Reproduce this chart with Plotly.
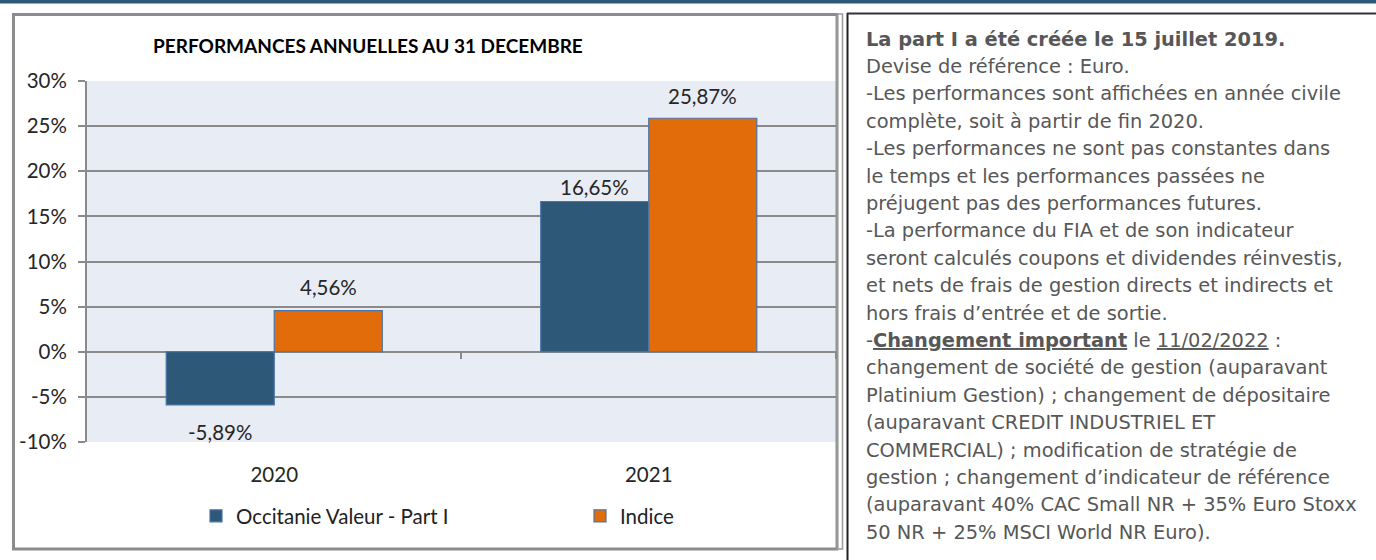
import plotly.graph_objects as go

# ---- data ----
years = ["2020", "2021"]
fund_name = "Occitanie Valeur - Part I"
index_name = "Indice"
fund_perf = [-5.89, 16.65]
index_perf = [4.56, 25.87]
y_ticks = [-10, -5, 0, 5, 10, 15, 20, 25, 30]
y_tick_labels = [f"{v}%" for v in y_ticks]
chart_title = "PERFORMANCES ANNUELLES AU 31 DECEMBRE"

notes = [
    "<b>La part I a été créée le 15 juillet 2019.</b>",
    "Devise de référence : Euro.",
    "-Les performances sont affichées en année civile",
    "complète, soit à partir de fin 2020.",
    "-Les performances ne sont pas constantes dans",
    "le temps et les performances passées ne",
    "préjugent pas des performances futures.",
    "-La performance du FIA et de son indicateur",
    "seront calculés coupons et dividendes réinvestis,",
    "et nets de frais de gestion directs et indirects et",
    "hors frais d’entrée et de sortie.",
    "-<b><u>Changement important</u></b> le <u>11/02/2022</u> :",
    "changement de société de gestion (auparavant",
    "Platinium Gestion) ; changement de dépositaire",
    "(auparavant CREDIT INDUSTRIEL ET",
    "COMMERCIAL) ; modification de stratégie de",
    "gestion ; changement d’indicateur de référence",
    "(auparavant 40% CAC Small NR + 35% Euro Stoxx",
    "50 NR + 25% MSCI World NR Euro).",
]

# ---- geometry / style (pixels) ----
W, H = 1376, 560
L, R, T, B = 87, 836, 81, 442
# vertical pixel offset of each data label centre from its bar end (style only)
label_shift = {"fund": [-27, 14], "index": [24, 22]}


def px(x):
    return (x - L) / (R - L)


def py(y):
    return (B - y) / (B - T)


BLUE = "#2E5877"
ORANGE = "#E36C0A"
GRID = "#8A8A8A"
CHART_FONT = "Lato"
FS = 20.5

fig = go.Figure()
fig.add_trace(go.Bar(x=years, y=fund_perf, name=fund_name, legend="legend",
                     marker=dict(color=BLUE, line=dict(color="#4A74A8", width=1.2))))
fig.add_trace(go.Bar(x=years, y=index_perf, name=index_name, legend="legend2",
                     marker=dict(color=ORANGE, line=dict(color="#4A74A8", width=1.2))))

annotations = []
# data labels (x given as category serial number)
for series, key, xshift in ((fund_perf, "fund", -54), (index_perf, "index", 54)):
    for i, v in enumerate(series):
        annotations.append(dict(
            x=i, y=v, xref="x", yref="y", xshift=xshift,
            yshift=label_shift[key][i], yanchor="middle",
            text=f"{v:.2f}%".replace(".", ","), showarrow=False,
            font=dict(family=CHART_FONT, size=FS, color="#262626")))

# title
annotations.append(dict(x=px(368), y=py(45), xref="paper", yref="paper",
                        text=f"<b>{chart_title}</b>", showarrow=False,
                        xanchor="center", yanchor="middle",
                        font=dict(family=CHART_FONT, size=19, color="#000000")))

# right-hand notes
y0_line, dy_line = 39, 27.4
for i, line in enumerate(notes):
    annotations.append(dict(x=px(864), y=py(y0_line + i * dy_line), xref="paper", yref="paper",
                            text=line, showarrow=False, xanchor="left", yanchor="middle",
                            font=dict(family="DejaVu Sans", size=19.4, color="#575757")))

shapes = [
    # top band
    dict(type="rect", xref="paper", yref="paper", x0=px(0), x1=px(W), y0=py(0), y1=py(3.5),
         fillcolor="#2D5878", line=dict(width=0), layer="above"),
    # chart frame
    dict(type="rect", xref="paper", yref="paper", x0=px(13.5), x1=px(837), y0=py(14.5), y1=py(549),
         line=dict(color="#8C8C8C", width=3)),
    dict(type="rect", xref="paper", yref="paper", x0=px(837), x1=px(842.5), y0=py(14), y1=py(549),
         line=dict(color="#9A9A9A", width=1.5)),
    # text box border
    dict(type="line", xref="paper", yref="paper", x0=px(847.5), x1=px(847.5), y0=py(13), y1=py(H),
         line=dict(color="#222222", width=2)),
    dict(type="line", xref="paper", yref="paper", x0=px(847), x1=px(W), y0=py(13.5), y1=py(13.5),
         line=dict(color="#333333", width=2)),
]
# category boundary ticks on the 0% line
for xb in (461, 836):
    shapes.append(dict(type="line", xref="paper", yref="y", x0=px(xb), x1=px(xb), y0=0, y1=-0.8,
                       line=dict(color=GRID, width=2)))

legend_common = dict(orientation="h", y=py(516), xanchor="left", yanchor="middle",
                     font=dict(family=CHART_FONT, size=FS, color="#222222"),
                     bgcolor="rgba(0,0,0,0)")

fig.update_layout(
    width=W, height=H,
    margin=dict(l=L, r=W - R, t=T, b=H - B, pad=0),
    paper_bgcolor="white",
    plot_bgcolor="#E8ECF4",
    barmode="group", bargap=0.423, bargroupgap=0,
    showlegend=True,
    legend=dict(x=px(196), **legend_common),
    legend2=dict(x=px(580), **legend_common),
    annotations=annotations,
    shapes=shapes,
    xaxis=dict(type="category", range=[-0.5, 1.5], showgrid=False, showline=False,
               ticks="", zeroline=False,
               tickfont=dict(family=CHART_FONT, size=FS, color="#262626"),
               ticklabelstandoff=18),
    yaxis=dict(range=[-10, 30], tickmode="array", tickvals=y_ticks, ticktext=y_tick_labels,
               showgrid=True, gridcolor=GRID, gridwidth=2, zeroline=False,
               showline=True, linecolor=GRID, linewidth=2,
               ticks="outside", ticklen=7, tickcolor=GRID, tickwidth=2,
               ticklabelstandoff=7,
               tickfont=dict(family=CHART_FONT, size=FS, color="#262626")),
)

fig.write_html("out.html", config={"displayModeBar": False},
               post_script="document.body.style.margin='0';document.body.style.overflow='hidden';")
